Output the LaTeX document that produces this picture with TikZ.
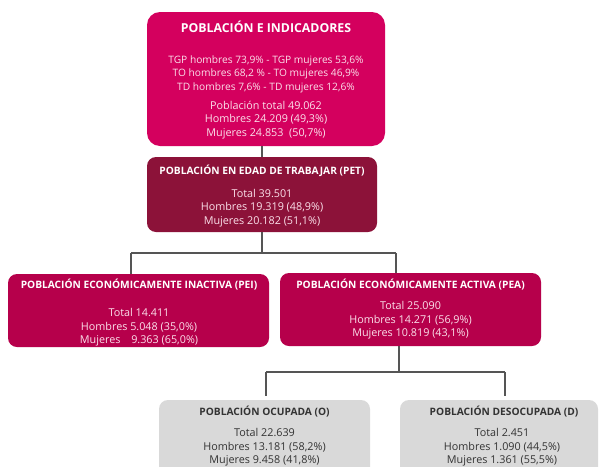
\documentclass[tikz,border=0pt]{standalone}
\usepackage{fontspec}
\setmainfont{Open Sans}
\definecolor{topc}{HTML}{D4005E}
\definecolor{petc}{HTML}{8C1239}
\definecolor{eac}{HTML}{B6004B}
\definecolor{grayc}{HTML}{D9D9D9}
\definecolor{lightt}{HTML}{FBE0EA}
\definecolor{darkt}{HTML}{333333}
\definecolor{linec}{HTML}{555555}
\tikzset{
  box/.style={draw=none, inner sep=0pt, rounded corners=9pt},
  hdr/.style={font=\bfseries\fontsize{10.2}{12}\selectfont, inner sep=0pt},
  body/.style={font=\fontsize{10.8}{13.6}\selectfont, align=center, inner sep=0pt},
  conn/.style={draw=linec, line width=1.1pt},
}
\begin{document}
\begin{tikzpicture}[x=1pt,y=-1pt]
\useasboundingbox (0,0) rectangle (599,466);
\clip (0,0) rectangle (599,466);
\fill[white] (0,0) rectangle (599,466);

% boxes
\node[box, fill=topc, rounded corners=13pt, minimum width=238pt, minimum height=134pt] (top) at (266,79) {};
\node[box, fill=petc, minimum width=230pt, minimum height=75pt] (pet) at (262,194.5) {};
\node[box, fill=eac, minimum width=261pt, minimum height=73pt] (pei) at (138.5,310.5) {};
\node[box, fill=eac, minimum width=261pt, minimum height=73pt] (pea) at (410.5,309.5) {};
\node[box, fill=grayc, minimum width=211pt, minimum height=90pt] (ocu) at (264.5,445) {};
\node[box, fill=grayc, minimum width=198pt, minimum height=90pt] (des) at (499,445) {};

% junctions
\coordinate (jL) at (131,253);
\coordinate (jR) at (396,253);
\coordinate (kM) at (399,372);
\coordinate (kL) at (266,372);
\coordinate (kR) at (505,372);
\coordinate (kLb) at (266,396);
\coordinate (kRb) at (505,396);

% connectors
\draw[conn] (top.south -| pet.north) -- (pet.north);
\draw[conn] (pet.south) -- (pet.south |- jL);
\draw[conn] (jL) -- (jR);
\draw[conn] (jL) -- (jL |- pei.north);
\draw[conn] (jR) -- (jR |- pea.north);
\draw[conn] (kM |- pea.south) -- (kM);
\draw[conn] (kL) -- (kR);
\draw[conn] (kL) -- (kLb);
\draw[conn] (kR) -- (kRb);

% texts top
\node[hdr, font=\bfseries\fontsize{12.3}{14}\selectfont, text=white] (tH) at (266,27) {POBLACIÓN E INDICADORES};
\node[body, font=\fontsize{10.2}{13.6}\selectfont, text=lightt] (tB1) at (266,74) {TGP hombres 73,9\% - TGP mujeres 53,6\%\\TO hombres 68,2 \% - TO mujeres 46,9\%\\TD hombres 7,6\% - TD mujeres 12,6\%};
\node[body, text=lightt] (tB2) at (266,120) {Población total 49.062\\Hombres 24.209 (49,3\%)\\Mujeres 24.853~ (50,7\%)};

% PET
\node[hdr, text=white] (pH) at (262,171) {POBLACIÓN EN EDAD DE TRABAJAR (PET)};
\node[body, text=lightt] (pB) at (262,208) {Total 39.501\\Hombres 19.319 (48,9\%)\\Mujeres 20.182 (51,1\%)};

% PEI
\node[hdr, text=white] (iH) at (139,285) {POBLACIÓN ECONÓMICAMENTE INACTIVA (PEI)};
\node[body, text=lightt] (iB) at (139,327.5) {Total 14.411\\Hombres 5.048 (35,0\%)\\Mujeres\quad 9.363 (65,0\%)};

% PEA
\node[hdr, text=white] (aH) at (410.5,285) {POBLACIÓN ECONÓMICAMENTE ACTIVA (PEA)};
\node[body, text=lightt] (aB) at (410.5,320.5) {Total 25.090\\Hombres 14.271 (56,9\%)\\Mujeres 10.819 (43,1\%)};

% Ocupada
\node[hdr, text=darkt] (oH) at (264.5,412) {POBLACIÓN OCUPADA (O)};
\node[body, text=darkt] (oB) at (264.5,447.5) {Total 22.639\\Hombres 13.181 (58,2\%)\\Mujeres 9.458 (41,8\%)};

% Desocupada
\node[hdr, text=darkt] (dH) at (504,412) {POBLACIÓN DESOCUPADA (D)};
\node[body, text=darkt] (dB) at (502,447.5) {Total 2.451\\Hombres 1.090 (44,5\%)\\Mujeres 1.361 (55,5\%)};
\end{tikzpicture}
\end{document}
